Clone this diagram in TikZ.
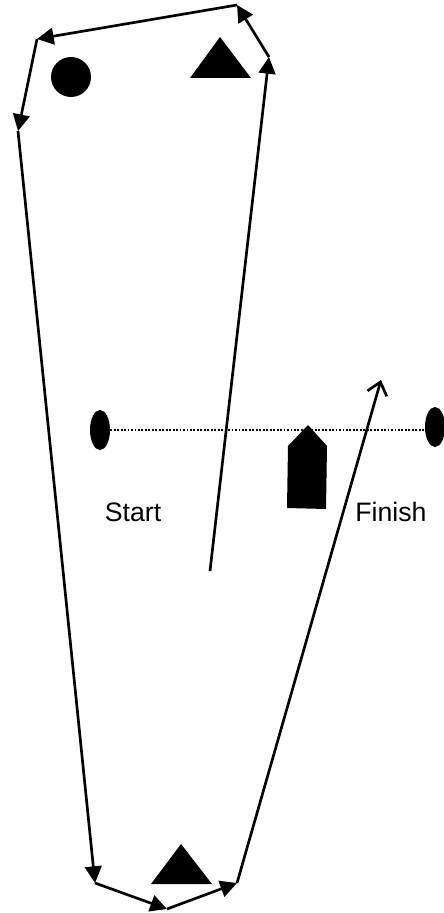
\documentclass[tikz,border=0pt]{standalone}
\usepackage{fontspec}
\setmainfont{Liberation Sans}
\usetikzlibrary{arrows.meta, shapes.geometric}
\tikzset{
    course leg/.style={line width=2pt, -{Triangle[length=12.5pt, width=12.5pt]}},
    open leg/.style={line width=2pt, -{Straight Barb[length=9pt, width=15pt, line width=2pt]}},
    gate post/.style={ellipse, fill=black, inner sep=0pt, minimum width=15pt, minimum height=30pt},
    gate label/.style={font=\fontsize{20pt}{24pt}\selectfont},
}
\begin{document}
\begin{tikzpicture}[x=0.75pt, y=-0.75pt]
\useasboundingbox (0,0) rectangle (443,913);

\coordinate (go) at (210,571);
\coordinate (top right) at (269,57);
\coordinate (top tip) at (237,5);
\coordinate (top left) at (37,39);
\coordinate (upper side) at (18,131);
\coordinate (low left) at (95,883);
\coordinate (low tip) at (167,909);
\coordinate (low right) at (237,883);
\coordinate (end) at (381,380);

% marks
\node[circle, fill=black, inner sep=0pt, minimum size=30pt] (buoy) at (71,77) {};
\fill (220,37) -- (251,78) -- (190,78) -- cycle;
\fill (181,844) -- (212,884) -- (151,884) -- cycle;
\fill (308,425) -- (327,446) -- (326,509) -- (287,508) -- (288,446) -- cycle;

% line
\node[gate post] (start post) at (100,430) {};
\node[gate post] (finish post) at (435,427) {};
\draw[line width=1.4pt, dash pattern=on 1.4pt off 1.2pt] (start post.east) -- (finish post.west |- start post.east);
\node[gate label] (start text) at (133,512) {Start};
\node[gate label] (finish text) at (391,512) {Finish};

% course
\draw[course leg] (go) -- (top right);
\draw[course leg] (top right) -- (top tip);
\draw[course leg] (top tip) -- (top left);
\draw[course leg] (top left) -- (upper side);
\draw[course leg] (upper side) -- (low left);
\draw[course leg] (low left) -- (low tip);
\draw[course leg] (low tip) -- (low right);
\draw[open leg] (low right) -- (end);

\end{tikzpicture}
\end{document}
